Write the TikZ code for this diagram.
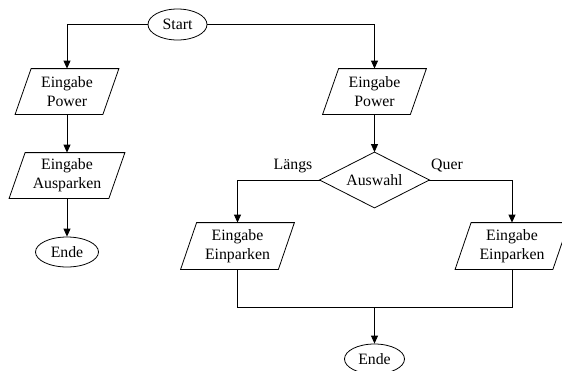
\documentclass[tikz,border=0pt]{standalone}
\usepackage{fontspec}
\setmainfont{Liberation Serif}
\usetikzlibrary{shapes.geometric,arrows.meta}
\newcommand\drawparal[1]{\draw ([xshift=8pt]#1.north west) -- ([xshift=8pt]#1.north east) -- ([xshift=-8pt]#1.south east) -- ([xshift=-8pt]#1.south west) -- cycle;}
\begin{document}
\begin{tikzpicture}[x=1pt,y=-1pt, line width=0.8pt,
  every node/.style={font=\fontsize{15.8}{18.7}\selectfont, inner sep=0pt},
  term/.style={ellipse, draw, minimum width=59pt, minimum height=31pt},
  iobox/.style={rectangle, align=center, minimum height=45pt},
  arr/.style={-{Triangle[length=8pt,width=7pt]}}]
\clip (0,0) rectangle (562,370);
\useasboundingbox (0,0) rectangle (562,370);

\node[term] (start) at (177.5,24.5) {Start};

\node[iobox, minimum width=87pt] (pl) at (67,91.5) {Eingabe\\Power};
\drawparal{pl}
\node[iobox, minimum width=87pt] (pr) at (374.5,91.5) {Eingabe\\Power};
\drawparal{pr}
\node[iobox, minimum width=99pt] (aus) at (67,175.5) {Eingabe\\Ausparken};
\drawparal{aus}
\node[term, minimum width=63pt, minimum height=30pt] (endel) at (67,252) {Ende};

\node[rectangle, minimum width=109pt, minimum height=55pt] (dia) at (374.5,180) {Auswahl};
\draw (dia.north) -- (dia.east) -- (dia.south) -- (dia.west) -- cycle;

\node[iobox, minimum width=97pt, minimum height=46pt] (einl) at (237.5,246) {Eingabe\\Einparken};
\drawparal{einl}
\node[iobox, minimum width=97pt, minimum height=46pt] (einr) at (512,246) {Eingabe\\Einparken};
\drawparal{einr}

\node[term, minimum width=60pt, minimum height=30pt] (ender) at (374.5,359) {Ende};

\node (laengs) at (293,166) {Längs};
\node (quer) at (447,166) {Quer};

\coordinate (join) at (374.5,307.5);

\draw[arr] (start.west) -| (pl.north);
\draw[arr] (start.east) -| (pr.north);
\draw[arr] (pl.south) -- (aus.north);
\draw[arr] (aus.south) -- (endel.north);
\draw[arr] (pr.south) -- (dia.north);
\draw[arr] (dia.west) -| (einl.north);
\draw[arr] (dia.east) -| (einr.north);
\draw (einl.south) |- (join);
\draw (einr.south) |- (join);
\draw[arr] (join) -- (ender.north);
\end{tikzpicture}
\end{document}
